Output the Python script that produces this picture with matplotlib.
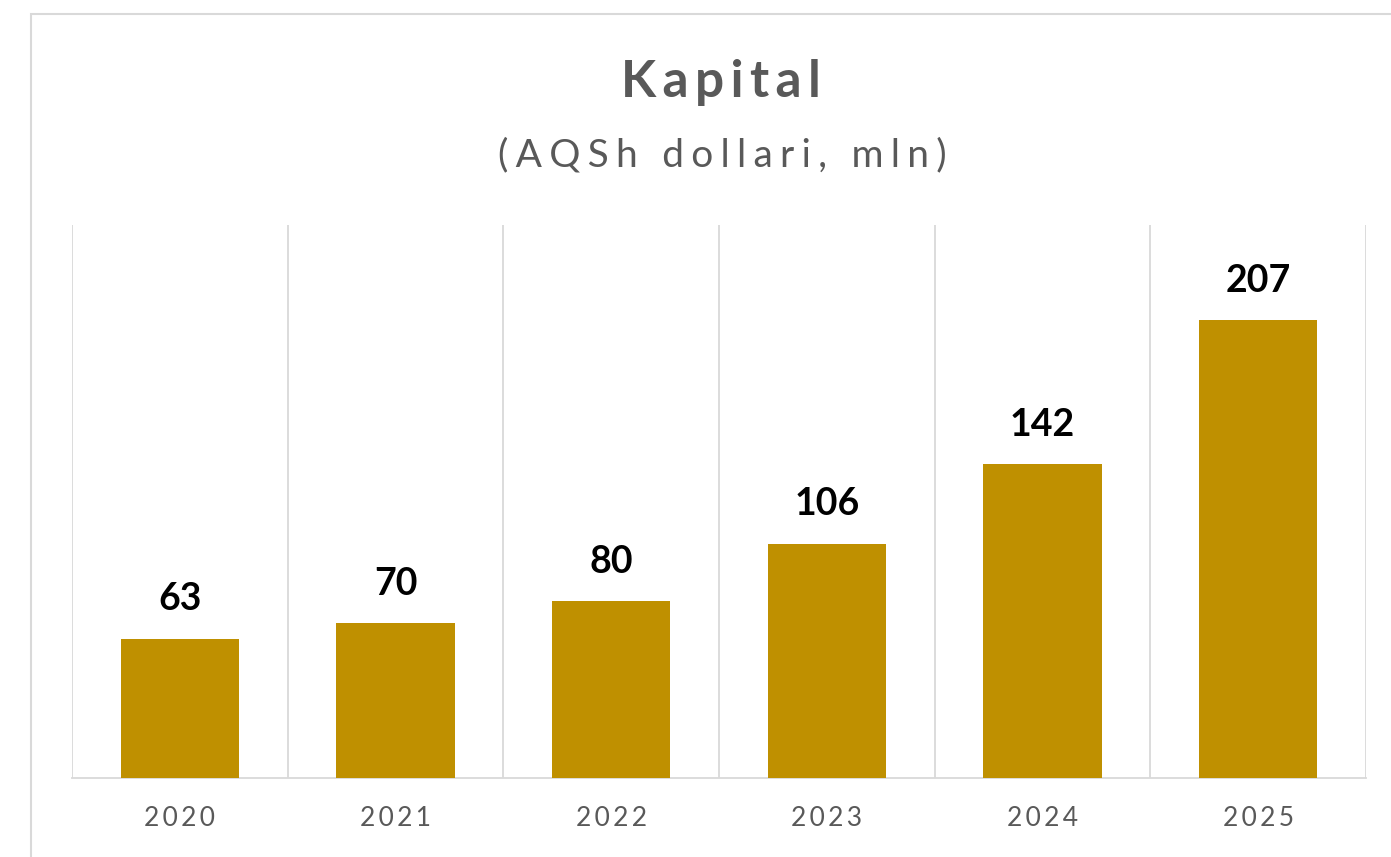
import matplotlib.pyplot as plt
from matplotlib.patches import Rectangle

years = ['2020', '2021', '2022', '2023', '2024', '2025']
capital = [63, 70, 80, 106, 142, 207]

bar_color = '#BF9000'
grid_color = '#D9D9D9'
text_gray = '#595959'

plt.rcParams['font.family'] = ['Lato', 'DejaVu Sans']


def spaced(s, sep='\u2009'):
    # imitate the letter spacing of the original
    return sep.join(s)


fig = plt.figure(figsize=(13.91, 8.57), dpi=100)
ax = fig.add_axes([72 / 1391, 1 - 778 / 857, (1366 - 72) / 1391, (778 - 225) / 857])

x = range(len(years))
bars = ax.bar(x, capital, width=0.55, color=bar_color, zorder=3)

ax.set_xlim(-0.5, len(years) - 0.5)
ax.set_ylim(0, 250)

# vertical separators between categories
for b in [i - 0.5 for i in range(len(years) + 1)]:
    ax.axvline(b, color=grid_color, lw=1.3, zorder=1)

for s in ['top', 'right', 'left']:
    ax.spines[s].set_visible(False)
ax.spines['bottom'].set_color(grid_color)
ax.spines['bottom'].set_linewidth(1.3)
ax.set_yticks([])
ax.set_xticks(list(x))
ax.set_xticklabels([spaced(y) for y in years], color=text_gray, fontsize=19)
ax.tick_params(axis='x', length=0, pad=20)

for rect, v in zip(bars, capital):
    ax.annotate(str(v), (rect.get_x() + rect.get_width() / 2, v),
                xytext=(0, 16), textcoords='offset points',
                ha='center', va='bottom', fontsize=27, fontweight='bold',
                color='black')

fig.text(0.518, 0.904, spaced('Kapital'), ha='center', va='center',
         fontsize=37, fontweight='bold', color=text_gray)
fig.text(0.519, 0.819, spaced('(AQSh dollari, mln)', '\u2009\u200a'),
         ha='center', va='center', fontsize=28, color=text_gray)

# chart area border (cropped on right and bottom)
fig.add_artist(Rectangle((31 / 1391, -0.1), 1.2, 1 - 14 / 857 + 0.1,
                         transform=fig.transFigure, fill=False,
                         edgecolor=grid_color, lw=1.5))

fig.savefig('out.png', dpi=100, facecolor='white')
